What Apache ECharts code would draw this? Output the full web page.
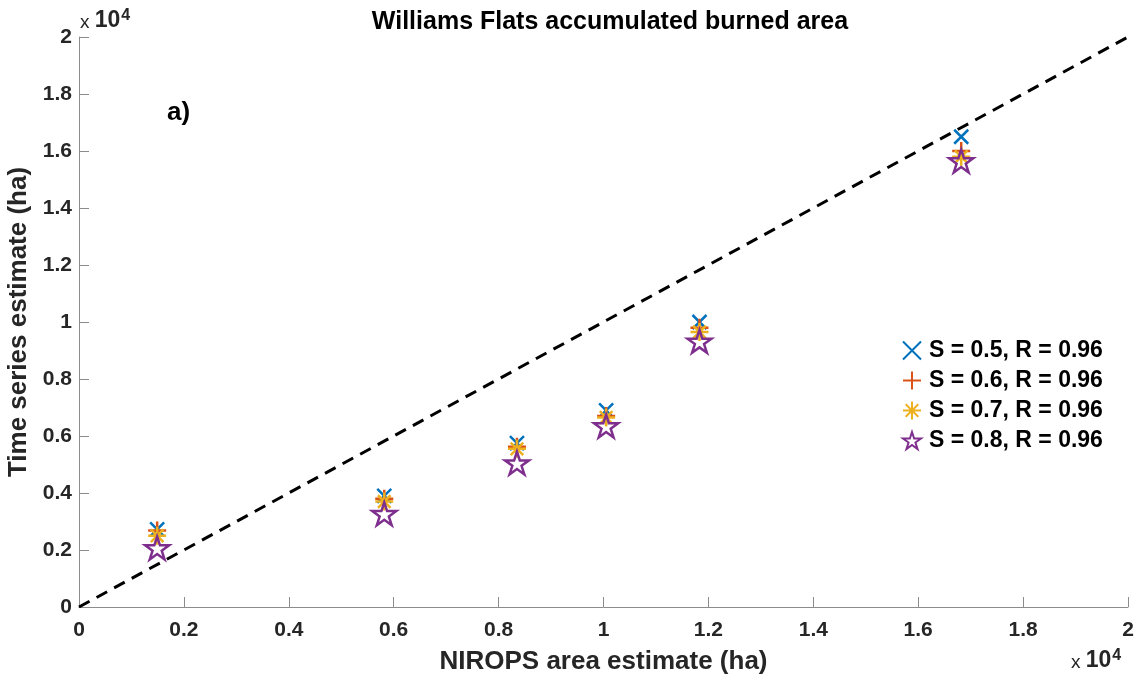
<!DOCTYPE html>
<html>
<head>
<meta charset="utf-8">
<title>Williams Flats accumulated burned area</title>
<script src="https://cdn.jsdelivr.net/npm/echarts@6/dist/echarts.min.js"></script>
<style>
  html, body { margin: 0; padding: 0; background: #fff; }
  #chart { width: 1137px; height: 682px; }
</style>
</head>
<body>
<div id="chart"></div>
<script>
// NIROPS area estimate (ha)
const niropsArea = [1490, 5820, 8350, 10050, 11830, 16820];
// time series estimates (ha), one list per S value
const estS05 = [2720, 3900, 5750, 6900, 10000, 16500];
const estS06 = [2680, 3800, 5620, 6700, 9800, 16000];
const estS07 = [2500, 3700, 5550, 6650, 9650, 15800];
const estS08 = [2070, 3270, 5050, 6350, 9320, 15650];
const seriesNames = ['S = 0.5, R = 0.96', 'S = 0.6, R = 0.96', 'S = 0.7, R = 0.96', 'S = 0.8, R = 0.96'];
const oneToOne = [[0, 0], [20000, 20000]];
const tickLabels = ['0', '0.2', '0.4', '0.6', '0.8', '1', '1.2', '1.4', '1.6', '1.8', '2'];

const font = 'Liberation Sans, Arial, Helvetica, sans-serif';

// matlab style markers
const markX = 'path://M0,0L10,10M10,0L0,10';
const markPlus = 'path://M5,0L5,10M0,5L10,5';
const markStar = 'path://M5,0L5,10M0,5L10,5M1.5,1.5L8.5,8.5M8.5,1.5L1.5,8.5';
const markPenta = 'path://M10,0L12.245,6.91L19.51,6.91L13.633,11.18L15.88,18.09L10,13.82L4.12,18.09L6.367,11.18L0.49,6.91L7.755,6.91Z';

function pairs(ys) {
    return niropsArea.map((x, i) => [x, ys[i]]);
}

function scatter(name, ys, symbol, size, color, width) {
    return {
        name: name,
        type: 'scatter',
        data: pairs(ys),
        symbol: symbol,
        symbolSize: size,
        symbolKeepAspect: true,
        itemStyle: { color: 'rgba(0,0,0,0)', borderColor: color, borderWidth: width, opacity: 1 },
        emphasis: { disabled: true },
        z: 3
    };
}

// the "x 10^4" exponent labels
const expRich = {
    x: { fontFamily: font, fontSize: 19, fill: '#262626', verticalAlign: 'bottom', padding: [0, 0, 2, 0] },
    b: { fontFamily: font, fontSize: 23, fontWeight: 'bold', fill: '#262626' },
    s: { fontFamily: font, fontSize: 16, fontWeight: 'bold', fill: '#262626', verticalAlign: 'top', padding: [0, 0, 10, 1] }
};

const chart = echarts.init(document.getElementById('chart'));

chart.setOption({
    animation: false,
    color: ['#0072BD', '#D95319', '#EDB120', '#7E2F8E'],
    title: {
        text: 'Williams Flats accumulated burned area',
        left: 605,
        top: 5,
        textAlign: 'center',
        textStyle: { fontFamily: font, fontSize: 25, fontWeight: 'bold', color: '#000' }
    },
    grid: { left: 79, right: 9, top: 37, bottom: 75, outerBoundsMode: 'none', containLabel: false },
    legend: {
        data: seriesNames,
        orient: 'vertical',
        left: 897,
        top: 334,
        itemGap: 7,
        itemWidth: 18,
        itemHeight: 18,
        textStyle: { fontFamily: font, fontSize: 23, fontWeight: 'bold', color: '#000', padding: [0, 0, 0, 3] }
    },
    xAxis: {
        type: 'value',
        min: 0,
        max: 20000,
        interval: 2000,
        name: 'NIROPS area estimate (ha)',
        nameLocation: 'middle',
        nameGap: 42,
        nameTextStyle: { fontFamily: font, fontSize: 26, fontWeight: 'bold', color: '#262626' },
        axisLine: { lineStyle: { color: '#8c8c8c', width: 1 } },
        axisTick: { inside: true, length: 10, lineStyle: { color: '#8c8c8c' } },
        axisLabel: {
            margin: 13,
            fontFamily: font, fontSize: 21, fontWeight: 'bold', color: '#262626',
            formatter: v => tickLabels[Math.round(v / 2000)]
        },
        splitLine: { show: false }
    },
    yAxis: {
        type: 'value',
        min: 0,
        max: 20000,
        interval: 2000,
        name: 'Time series estimate (ha)',
        nameLocation: 'middle',
        nameGap: 46,
        nameTextStyle: { fontFamily: font, fontSize: 26, fontWeight: 'bold', color: '#262626' },
        axisLine: { show: true, lineStyle: { color: '#8c8c8c', width: 1 } },
        axisTick: { show: true, inside: true, length: 10, lineStyle: { color: '#8c8c8c' } },
        axisLabel: {
            margin: 7,
            fontFamily: font, fontSize: 21, fontWeight: 'bold', color: '#262626',
            formatter: v => tickLabels[Math.round(v / 2000)]
        },
        splitLine: { show: false }
    },
    graphic: [
        { type: 'text', left: 80, top: 8, style: { text: '{x|x }{b|10}{s|4}', rich: expRich } },
        { type: 'text', left: 1071, top: 648, style: { text: '{x|x }{b|10}{s|4}', rich: expRich } },
        {
            type: 'text', left: 167, top: 100,
            style: { text: 'a)', fontFamily: font, fontSize: 26, fontWeight: 'bold', fill: '#000' }
        }
    ],
    series: [
        {
            name: '1:1',
            type: 'line',
            data: oneToOne,
            symbol: 'none',
            lineStyle: { color: '#000', width: 3, type: [12, 8] },
            emphasis: { disabled: true },
            z: 2
        },
        scatter(seriesNames[0], estS05, markX, 14, '#0072BD', 2.5),
        scatter(seriesNames[1], estS06, markPlus, 18, '#D95319', 2.5),
        scatter(seriesNames[2], estS07, markStar, 18, '#EDB120', 2.5),
        scatter(seriesNames[3], estS08, markPenta, 24, '#7E2F8E', 2.5)
    ]
});
</script>
</body>
</html>
